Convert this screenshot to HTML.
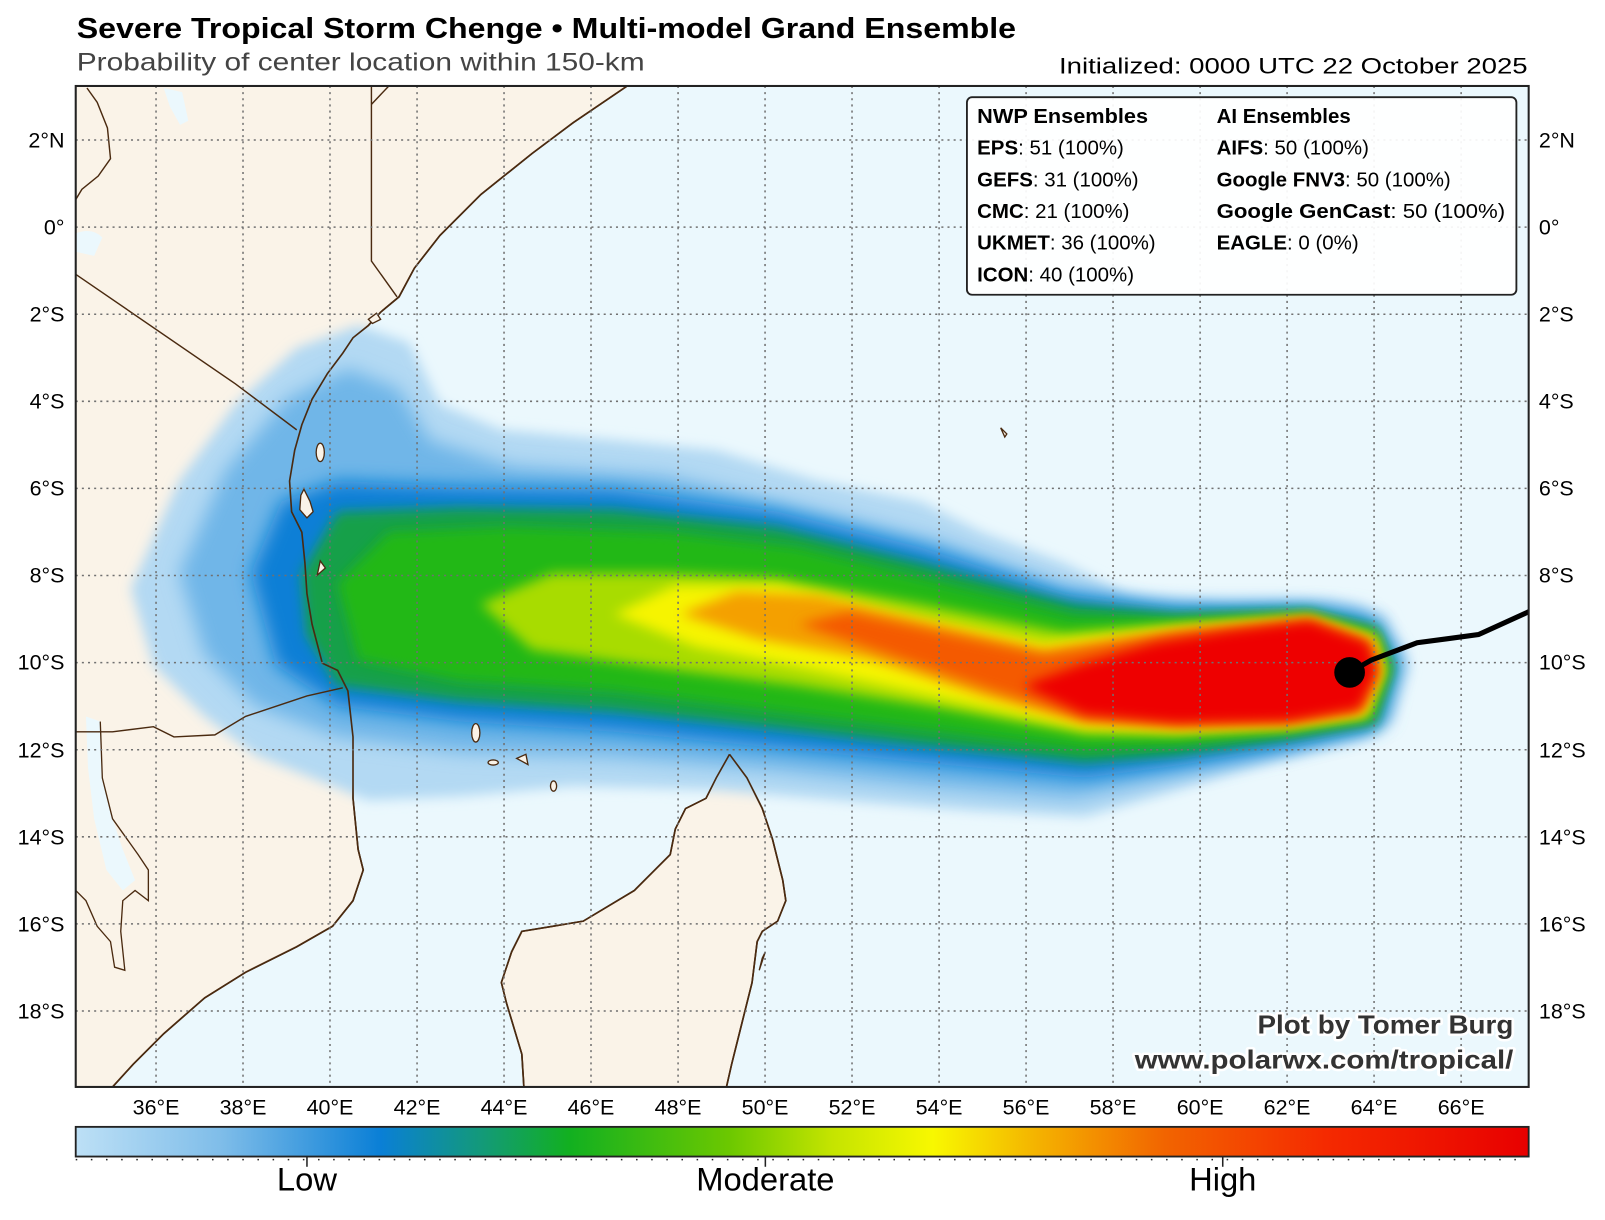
<!DOCTYPE html>
<html><head><meta charset="utf-8"><style>
html,body{margin:0;padding:0;background:#fff;}
svg{display:block;font-family:"Liberation Sans",sans-serif;}
</style></head><body>
<svg width="1605" height="1220" viewBox="0 0 1568.6 1192" preserveAspectRatio="none" xmlns="http://www.w3.org/2000/svg">
<defs>
<clipPath id="mc"><rect x="74" y="84" width="1420" height="978"/></clipPath>
<filter id="b1" x="-20%" y="-40%" width="140%" height="180%"><feGaussianBlur stdDeviation="9"/></filter>
<filter id="b2" x="-20%" y="-40%" width="140%" height="180%"><feGaussianBlur stdDeviation="6"/></filter>
<linearGradient id="cb" x1="0" x2="1" y1="0" y2="0">
<stop offset="0" stop-color="#bde0f6"/><stop offset="0.1" stop-color="#7fbde9"/><stop offset="0.21" stop-color="#0a7fd6"/>
<stop offset="0.28" stop-color="#139a78"/><stop offset="0.34" stop-color="#12b020"/><stop offset="0.45" stop-color="#6cc800"/>
<stop offset="0.52" stop-color="#c4e400"/><stop offset="0.59" stop-color="#f8f800"/><stop offset="0.66" stop-color="#f4b400"/>
<stop offset="0.75" stop-color="#f26400"/><stop offset="0.86" stop-color="#f52a00"/><stop offset="1" stop-color="#e80000"/>
</linearGradient>
</defs>
<rect x="0" y="0" width="1568.6" height="1192" fill="#fff"/>
<g clip-path="url(#mc)">
<rect x="74" y="84" width="1420" height="978" fill="#ebf8fd"/>
<path d="M74,84 L613,84 L560,120 L520,150 L470,190 L430,230 L405,262 L390,290 L372,305 L360,318 L345,330 L335,345 L320,365 L305,390 L295,415 L288,440 L283,470 L285,500 L295,520 L298,550 L300,580 L305,610 L315,648 L330,655 L340,675 L345,720 L345,780 L350,830 L355,850 L345,880 L325,905 L290,925 L240,950 L200,975 L160,1010 L130,1040 L110,1062 L74,1062 Z" fill="#faf3e8" stroke="#4a2a10" stroke-width="1.6"/>
<path d="M74,228 Q90,222 100,232 L92,250 L74,246 Z" fill="#ebf8fd"/>
<path d="M160,86 L178,90 L184,118 L176,122 L166,104 Z" fill="#ebf8fd"/>
<path d="M84,700 L98,705 L100,760 L110,800 L120,830 L132,860 L120,870 L104,850 L92,800 L86,750 Z" fill="#ebf8fd"/>
<path d="M713,737 L730,760 L745,790 L755,820 L765,860 L768,880 L760,900 L745,910 L740,920 L735,960 L725,1000 L715,1040 L710,1062 L512,1062 L510,1030 L495,980 L490,960 L500,930 L510,910 L540,905 L570,900 L595,885 L620,870 L640,850 L655,835 L660,810 L670,790 L690,780 L700,760 Z" fill="#faf3e8" stroke="#4a2a10" stroke-width="1.6"/>
<g>
<path filter="url(#b2)" fill="#b3d9f3" d="M128,575 L175,470 L230,395 L290,340 L350,318 L400,335 L430,395 L490,420 L600,430 L700,440 L800,470 L900,490 L960,520 L1040,550 L1100,580 L1200,590 L1300,586 L1355,600 L1378,650 L1360,705 L1330,722 L1250,742 L1150,772 L1060,798 L950,792 L820,782 L700,772 L560,768 L450,778 L360,782 L250,738 L200,700 L150,650 Z"/>
<path filter="url(#b1)" fill="#70b6e8" d="M175,560 L220,460 L280,390 L340,360 L390,380 L420,430 L500,455 L650,465 L800,500 L920,530 L1040,575 L1120,592 L1250,592 L1330,596 L1368,640 L1355,705 L1250,735 L1140,760 L1050,780 L900,768 L750,752 L600,740 L450,735 L330,720 L250,690 L200,640 Z"/>
<path filter="url(#b1)" fill="#0d7fd6" d="M245,560 L275,490 L330,470 L450,475 L600,478 L760,500 L900,535 L1040,580 L1150,594 L1280,594 L1345,608 L1365,650 L1345,712 L1260,730 L1150,748 L1060,760 L900,745 L750,730 L600,715 L450,705 L330,690 L270,650 Z"/>
<path filter="url(#b2)" fill="#14a04a" d="M295,560 L330,500 L450,496 L600,498 L760,515 L900,550 L1050,590 L1150,600 L1280,597 L1345,613 L1362,652 L1345,707 L1260,722 L1150,738 L1060,745 L900,728 L760,712 L600,695 L450,685 L330,670 L300,620 Z"/>
<path filter="url(#b2)" fill="#22b812" d="M330,570 L380,520 L500,515 L650,520 L780,535 L900,565 L1050,602 L1150,604 L1280,600 L1345,618 L1358,652 L1340,702 L1260,716 L1150,728 L1060,732 L900,712 L760,695 L600,675 L450,665 L350,645 Z"/>
<path filter="url(#b2)" fill="#a8dc00" d="M470,590 L540,560 L650,560 L760,565 L900,590 L1040,618 L1150,610 L1280,602 L1345,622 L1354,655 L1337,700 L1260,712 L1150,718 L1060,717 L920,692 L780,670 L640,652 L520,635 Z"/>
<path filter="url(#b2)" fill="#f6f400" d="M600,600 L660,572 L760,572 L880,600 L1020,628 L1150,614 L1280,604 L1343,624 L1351,656 L1334,698 L1260,709 L1150,714 L1060,711 L930,684 L800,656 L680,632 Z"/>
<path filter="url(#b2)" fill="#f4a000" d="M665,600 L720,578 L800,582 L900,606 L1020,634 L1150,616 L1280,605 L1341,626 L1349,656 L1332,696 L1260,707 L1150,711 L1060,707 L960,680 L850,644 L740,624 Z"/>
<path filter="url(#b2)" fill="#f45a00" d="M780,610 L830,598 L920,618 L1020,640 L1150,618 L1280,606 L1340,628 L1347,656 L1330,694 L1260,705 L1150,708 L1060,702 L970,674 L870,640 Z"/>
<path filter="url(#b2)" fill="#ee0600" d="M1000,670 L1060,648 L1130,628 L1200,617 L1280,607 L1336,628 L1345,656 L1328,692 L1260,704 L1150,706 L1060,698 Z"/>
</g>
<path d="M613,84 L560,120 L520,150 L470,190 L430,230 L405,262 L390,290 L372,305 L360,318 L345,330 L335,345 L320,365 L305,390 L295,415 L288,440 L283,470 L285,500 L295,520 L298,550 L300,580 L305,610 L315,648 L330,655 L340,675 L345,720 L345,780 L350,830 L355,850 L345,880 L325,905 L290,925 L240,950 L200,975 L160,1010 L130,1040 L110,1062" fill="none" stroke="#4a2a10" stroke-width="1.6"/>
<path d="M363,84 L363,255 L388,290" fill="none" stroke="#4a2a10" stroke-width="1.4"/>
<path d="M380,84 L363,102" fill="none" stroke="#4a2a10" stroke-width="1.4"/>
<path d="M74,268 L230,375 L290,420" fill="none" stroke="#4a2a10" stroke-width="1.4"/>
<path d="M74,715 L110,715 L150,710 L170,720 L210,718 L240,700 L270,690 L300,680 L335,672" fill="none" stroke="#4a2a10" stroke-width="1.4"/>
<path d="M85,86 L95,100 L105,125 L108,155 L96,172 L80,185 L74,195" fill="none" stroke="#4a2a10" stroke-width="1.4"/>
<path d="M98,705 L100,760 L110,800 L135,835 L145,850 L145,880 L132,870 L120,880 L118,910 L122,948 L112,945 L108,920 L95,905 L84,880 L74,870" fill="none" stroke="#4a2a10" stroke-width="1.3"/>
<path d="M713,737 L730,760 L745,790 L755,820 L765,860 L768,880 L760,900 L745,910 L740,920 L735,960 L725,1000 L715,1040 L710,1062 M512,1062 L510,1030 L495,980 L490,960 L500,930 L510,910 L540,905 L570,900 L595,885 L620,870 L640,850 L655,835 L660,810 L670,790 L690,780 L700,760 L713,737" fill="none" stroke="#4a2a10" stroke-width="1.6"/>
<g fill="#faf3e8" stroke="#4a2a10" stroke-width="1.3">
<ellipse cx="313" cy="442" rx="4" ry="9"/>
<path d="M297,478 L303,490 L306,500 L300,506 L293,498 L294,484 Z"/>
<path d="M313,548 L318,555 L310,562 Z"/>
<ellipse cx="465" cy="716" rx="4" ry="9"/>
<ellipse cx="482" cy="745" rx="5" ry="2.5"/>
<path d="M505,741 L514,737 L516,747 Z"/>
<ellipse cx="541" cy="768" rx="3" ry="5"/>
<path d="M978,418 L984,424 L982,427 Z"/>
<path d="M745,936 L748,930 L742,948 Z"/>
<path d="M360,312 L368,306 L372,312 L364,316 Z"/>
</g>
<g stroke="#707070" stroke-width="1.5" stroke-dasharray="2,4">
<line x1="152.5" y1="84" x2="152.5" y2="1062"/><line x1="237.5" y1="84" x2="237.5" y2="1062"/><line x1="322.5" y1="84" x2="322.5" y2="1062"/><line x1="407.6" y1="84" x2="407.6" y2="1062"/><line x1="492.6" y1="84" x2="492.6" y2="1062"/><line x1="577.6" y1="84" x2="577.6" y2="1062"/><line x1="662.7" y1="84" x2="662.7" y2="1062"/><line x1="747.7" y1="84" x2="747.7" y2="1062"/><line x1="832.7" y1="84" x2="832.7" y2="1062"/><line x1="917.8" y1="84" x2="917.8" y2="1062"/><line x1="1002.8" y1="84" x2="1002.8" y2="1062"/><line x1="1087.8" y1="84" x2="1087.8" y2="1062"/><line x1="1172.9" y1="84" x2="1172.9" y2="1062"/><line x1="1257.9" y1="84" x2="1257.9" y2="1062"/><line x1="1342.9" y1="84" x2="1342.9" y2="1062"/><line x1="1428" y1="84" x2="1428" y2="1062"/>
<line x1="74" y1="136.8" x2="1494" y2="136.8"/><line x1="74" y1="221.9" x2="1494" y2="221.9"/><line x1="74" y1="307" x2="1494" y2="307"/><line x1="74" y1="392.1" x2="1494" y2="392.1"/><line x1="74" y1="477.2" x2="1494" y2="477.2"/><line x1="74" y1="562.3" x2="1494" y2="562.3"/><line x1="74" y1="647.4" x2="1494" y2="647.4"/><line x1="74" y1="732.5" x2="1494" y2="732.5"/><line x1="74" y1="817.6" x2="1494" y2="817.6"/><line x1="74" y1="902.7" x2="1494" y2="902.7"/><line x1="74" y1="987.8" x2="1494" y2="987.8"/>
</g>
<polyline points="1319,657 1340,645 1385,628 1415,624 1445,620 1500,595" fill="none" stroke="#000" stroke-width="5"/>
<circle cx="1319" cy="657" r="15" fill="#000"/>
<g font-weight="bold" font-size="25" text-anchor="end" fill="#333" stroke="#ffffff" stroke-width="5" paint-order="stroke" stroke-linejoin="round">
<text x="1479" y="1010" textLength="250" lengthAdjust="spacingAndGlyphs">Plot by Tomer Burg</text>
<text x="1479" y="1044" textLength="370" lengthAdjust="spacingAndGlyphs">www.polarwx.com/tropical/</text>
</g>
</g>
<rect x="74" y="84" width="1420" height="978" fill="none" stroke="#222" stroke-width="2"/>
<rect x="945" y="95" width="537" height="193" rx="5" fill="#ffffff" fill-opacity="0.92" stroke="#222" stroke-width="1.8"/>
<g font-size="20" fill="#000">
<text x="955" y="120" font-weight="bold" textLength="167" lengthAdjust="spacingAndGlyphs">NWP Ensembles</text>
<text x="955" y="151"><tspan font-weight="bold">EPS</tspan>: 51 (100%)</text>
<text x="955" y="182"><tspan font-weight="bold">GEFS</tspan>: 31 (100%)</text>
<text x="955" y="213"><tspan font-weight="bold">CMC</tspan>: 21 (100%)</text>
<text x="955" y="244"><tspan font-weight="bold">UKMET</tspan>: 36 (100%)</text>
<text x="955" y="275"><tspan font-weight="bold">ICON</tspan>: 40 (100%)</text>
<text x="1189" y="120" font-weight="bold">AI Ensembles</text>
<text x="1189" y="151"><tspan font-weight="bold">AIFS</tspan>: 50 (100%)</text>
<text x="1189" y="182"><tspan font-weight="bold">Google FNV3</tspan>: 50 (100%)</text>
<text x="1189" y="213" textLength="282" lengthAdjust="spacingAndGlyphs"><tspan font-weight="bold">Google GenCast</tspan>: 50 (100%)</text>
<text x="1189" y="244"><tspan font-weight="bold">EAGLE</tspan>: 0 (0%)</text>
</g>
<text x="75" y="37" font-size="28" font-weight="bold" fill="#000" textLength="918" lengthAdjust="spacingAndGlyphs">Severe Tropical Storm Chenge • Multi-model Grand Ensemble</text>
<text x="75" y="69" font-size="24" fill="#444" textLength="555" lengthAdjust="spacingAndGlyphs">Probability of center location within 150-km</text>
<text x="1493" y="72" font-size="22" text-anchor="end" fill="#000" textLength="458" lengthAdjust="spacingAndGlyphs">Initialized: 0000 UTC 22 October 2025</text>
<g font-size="21" fill="#000">
<g text-anchor="end">
<text x="63" y="144">2°N</text><text x="63" y="229">0°</text><text x="63" y="314">2°S</text><text x="63" y="399">4°S</text><text x="63" y="484">6°S</text><text x="63" y="569">8°S</text><text x="63" y="654">10°S</text><text x="63" y="740">12°S</text><text x="63" y="825">14°S</text><text x="63" y="910">16°S</text><text x="63" y="995">18°S</text>
</g>
<g>
<text x="1504" y="144">2°N</text><text x="1504" y="229">0°</text><text x="1504" y="314">2°S</text><text x="1504" y="399">4°S</text><text x="1504" y="484">6°S</text><text x="1504" y="569">8°S</text><text x="1504" y="654">10°S</text><text x="1504" y="740">12°S</text><text x="1504" y="825">14°S</text><text x="1504" y="910">16°S</text><text x="1504" y="995">18°S</text>
</g>
<g text-anchor="middle">
<text x="152.5" y="1089">36°E</text><text x="237.5" y="1089">38°E</text><text x="322.5" y="1089">40°E</text><text x="407.6" y="1089">42°E</text><text x="492.6" y="1089">44°E</text><text x="577.6" y="1089">46°E</text><text x="662.7" y="1089">48°E</text><text x="747.7" y="1089">50°E</text><text x="832.7" y="1089">52°E</text><text x="917.8" y="1089">54°E</text><text x="1002.8" y="1089">56°E</text><text x="1087.8" y="1089">58°E</text><text x="1172.9" y="1089">60°E</text><text x="1257.9" y="1089">62°E</text><text x="1342.9" y="1089">64°E</text><text x="1428" y="1089">66°E</text>
</g>
</g>
<rect x="74" y="1101" width="1420" height="29" fill="url(#cb)" stroke="#222" stroke-width="1.8"/>
<line x1="74" y1="1133" x2="1494" y2="1133" stroke="#222" stroke-width="1.5" stroke-dasharray="1.5,13.3"/>
<g stroke="#222" stroke-width="1.5"><line x1="300" y1="1130" x2="300" y2="1140"/><line x1="748" y1="1130" x2="748" y2="1140"/><line x1="1195" y1="1130" x2="1195" y2="1140"/></g>
<g font-size="32" text-anchor="middle" fill="#000">
<text x="300" y="1163">Low</text><text x="748" y="1163">Moderate</text><text x="1195" y="1163">High</text>
</g>
</svg>
</body></html>
